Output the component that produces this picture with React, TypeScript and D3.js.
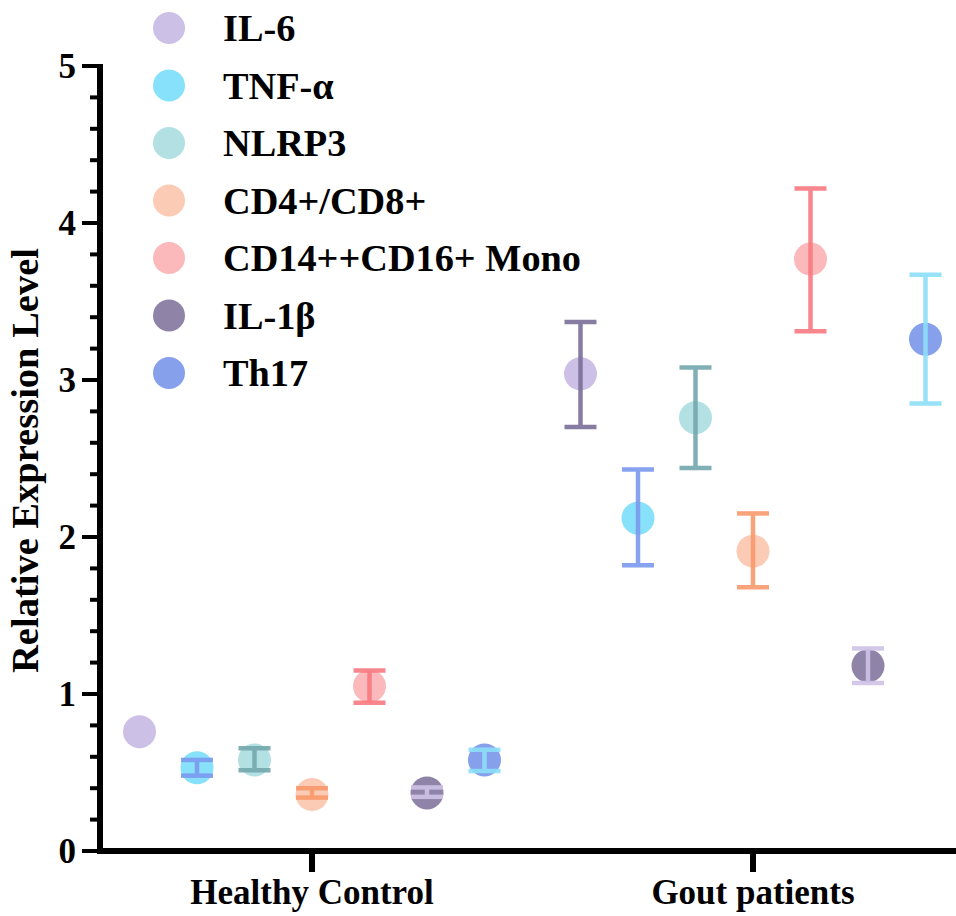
import * as d3 from 'd3'

const series = ['IL-6', 'TNF-α', 'NLRP3', 'CD4+/CD8+', 'CD14++CD16+ Mono', 'IL-1β', 'Th17']
const dotColors = ['#cdc0e6', '#88e1fa', '#b3e0e3', '#fccbb5', '#fcb9bc', '#8f83a8', '#86a0ec']
const barColors = ['#7b6e98', '#7b98ee', '#73a8ad', '#f99a6c', '#f87a80', '#cfc3e8', '#8ddff9']
const groups = ['Healthy Control', 'Gout patients']

const healthyMean = [0.76, 0.53, 0.58, 0.36, 1.05, 0.37, 0.58]
const healthyUpper = [0.76, 0.58, 0.655, 0.4, 1.15, 0.405, 0.645]
const healthyLower = [0.76, 0.48, 0.515, 0.34, 0.945, 0.345, 0.51]
const goutMean = [3.04, 2.12, 2.76, 1.91, 3.77, 1.18, 3.26]
const goutUpper = [3.37, 2.43, 3.08, 2.15, 4.22, 1.29, 3.67]
const goutLower = [2.7, 1.82, 2.44, 1.68, 3.31, 1.07, 2.85]

const yTicks = [0, 1, 2, 3, 4, 5]

const W = 956
const H = 916
const FONT = 'Liberation Serif, serif'

export default function App() {
  const y = d3.scaleLinear().domain([0, 5]).range([851, 66])
  const x = d3.scaleLinear().domain([0, 1]).range([312, 753])
  const offset = d3.scalePoint<string>().domain(series).range([-172.5, 172.5])
  const minor = d3.range(0, 5.001, 0.2)

  const rows = [
    { mean: healthyMean, upper: healthyUpper, lower: healthyLower },
    { mean: goutMean, upper: goutUpper, lower: goutLower },
  ]

  const r = 16.5
  const capW = 16

  return (
    <svg width={W} height={H} style={{ position: 'absolute', left: 0, top: 0, background: '#fff' }} fontFamily={FONT}>
      {/* points first, error bars drawn over them */}
      {rows.map((row, g) =>
        series.map((s, i) => {
          const cx = x(g) + (offset(s) ?? 0)
          return <circle key={`c${g}${i}`} cx={cx} cy={y(row.mean[i])} r={r} fill={dotColors[i]} />
        })
      )}
      {rows.map((row, g) =>
        series.map((s, i) => {
          if (row.upper[i] === row.lower[i]) return null
          const cx = x(g) + (offset(s) ?? 0)
          const yt = y(row.upper[i])
          const yb = y(row.lower[i])
          return (
            <g key={`e${g}${i}`} stroke={barColors[i]} strokeWidth={4.5} opacity={0.9}>
              <line x1={cx} x2={cx} y1={yt} y2={yb} />
              <line x1={cx - capW} x2={cx + capW} y1={yt} y2={yt} />
              <line x1={cx - capW} x2={cx + capW} y1={yb} y2={yb} />
            </g>
          )
        })
      )}

      {/* y axis */}
      <line x1={100} x2={100} y1={y(5) - 2} y2={y(0) + 3} stroke="#000" strokeWidth={6} />
      {minor.map((v) => {
        const major = Math.abs(v - Math.round(v)) < 1e-6
        return (
          <line key={`t${v}`} x1={major ? 82 : 90} x2={100} y1={y(v)} y2={y(v)} stroke="#000" strokeWidth={4} />
        )
      })}
      {yTicks.map((v) => (
        <text key={`l${v}`} x={76} y={y(v)} dy="0.35em" textAnchor="end" fontSize={35} fontWeight="bold">
          {v}
        </text>
      ))}
      <text
        transform={`translate(38,${(248 + 673) / 2}) rotate(-90)`}
        textAnchor="middle"
        fontSize={38.5}
        fontWeight="bold"
      >
        Relative Expression Level
      </text>

      {/* x axis */}
      <line x1={97} x2={W} y1={y(0)} y2={y(0)} stroke="#000" strokeWidth={6} />
      {groups.map((gname, g) => (
        <g key={gname}>
          <line x1={x(g)} x2={x(g)} y1={y(0)} y2={y(0) + 21} stroke="#000" strokeWidth={6} />
          <text x={x(g)} y={904} textAnchor="middle" fontSize={35} fontWeight="bold">
            {gname}
          </text>
        </g>
      ))}

      {/* legend */}
      {series.map((s, i) => {
        const cy = 28 + i * 57.5
        return (
          <g key={`lg${i}`}>
            <circle cx={169} cy={cy} r={16} fill={dotColors[i]} />
            <text x={223} y={cy} dy="0.35em" fontSize={38.3} fontWeight="bold">
              {s}
            </text>
          </g>
        )
      })}
    </svg>
  )
}
